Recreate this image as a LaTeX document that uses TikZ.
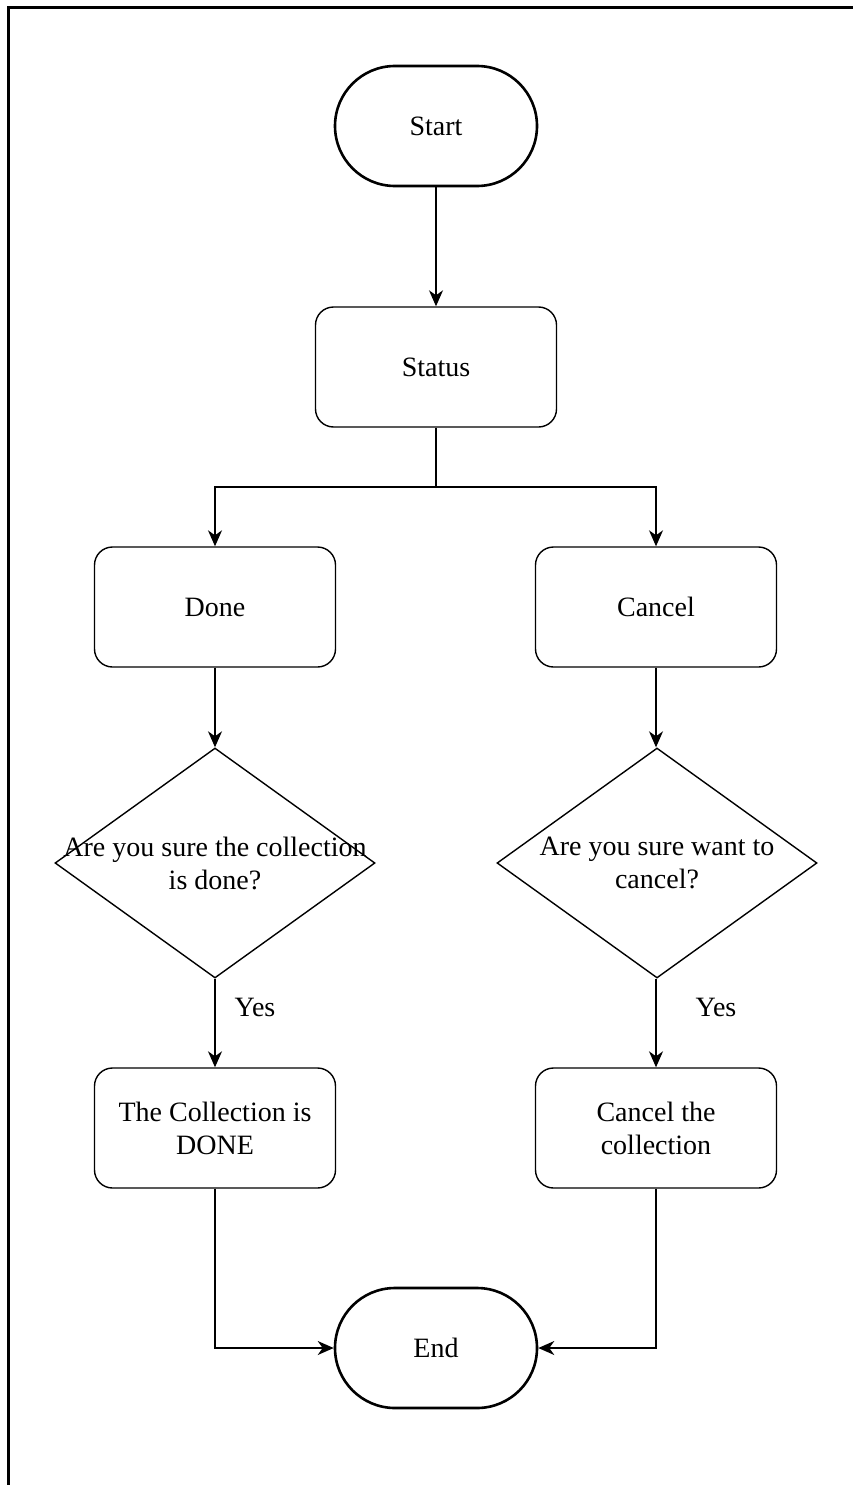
\documentclass[tikz,border=0pt]{standalone}
\usepackage{fontspec}
\setmainfont{Liberation Serif}
\usetikzlibrary{shapes.geometric,arrows.meta}
\begin{document}
\begin{tikzpicture}[x=1pt,y=1pt,
  every node/.style={font=\fontsize{28}{33}\selectfont, align=center},
  terminal/.style={draw, line width=2.6pt, rectangle, rounded corners=60pt,
    minimum width=202pt, minimum height=120pt, inner sep=0pt},
  procbox/.style={draw, line width=1.4pt, rectangle, rounded corners=18pt,
    minimum width=241pt, minimum height=120pt, inner sep=0pt},
  decision/.style={draw, line width=1.4pt, diamond, inner sep=0pt,
    minimum width=320pt, minimum height=230pt},
  qtext/.style={inner sep=0pt},
  link/.style={line width=1.4pt, -{Stealth[length=16pt,width=14pt,inset=5pt]}},
  plainlink/.style={line width=1.4pt}]
  \useasboundingbox (0,0) rectangle (853,-1485);

  % partial frame
  \draw[line width=3pt] (8,-1485) -- (8,-8) -- (853,-8);

  % nodes
  \node[terminal] (start) at (436,-126) {Start};
  \node[procbox] (status) at (436,-367) {Status};
  \node[procbox] (done) at (215,-607) {Done};
  \node[procbox] (cancel) at (656,-607) {Cancel};
  \node[decision] (q1) at (215,-863) {};
  \node[qtext] (q1t) at (q1) {Are you sure the collection\\is done?};
  \node[decision] (q2) at (657,-863) {};
  \node[qtext] (q2t) at (q2) {Are you sure want to\\cancel?};
  \node[procbox] (isdone) at (215,-1128) {The Collection is\\DONE};
  \node[procbox] (cancelit) at (656,-1128) {Cancel the\\collection};
  \node[terminal] (end) at (436,-1348) {End};

  \node (yes1) at (255,-1007) {Yes};
  \node (yes2) at (716,-1007) {Yes};

  \coordinate (split) at (436,-487);

  % connectors
  \draw[link] (start) -- (status);
  \draw[plainlink] (status.south) -- (split);
  \draw[link] (split) -| (done.north);
  \draw[link] (split) -| (cancel.north);
  \draw[link] (done) -- (q1.north);
  \draw[link] (cancel) -- (cancel |- q2.north);
  \draw[link] (q1.south) -- (isdone);
  \draw[link] (cancel |- q2.south) -- (cancelit);
  \draw[link] (isdone.south) |- (end.west);
  \draw[link] (cancelit.south) |- (end.east);
\end{tikzpicture}
\end{document}
